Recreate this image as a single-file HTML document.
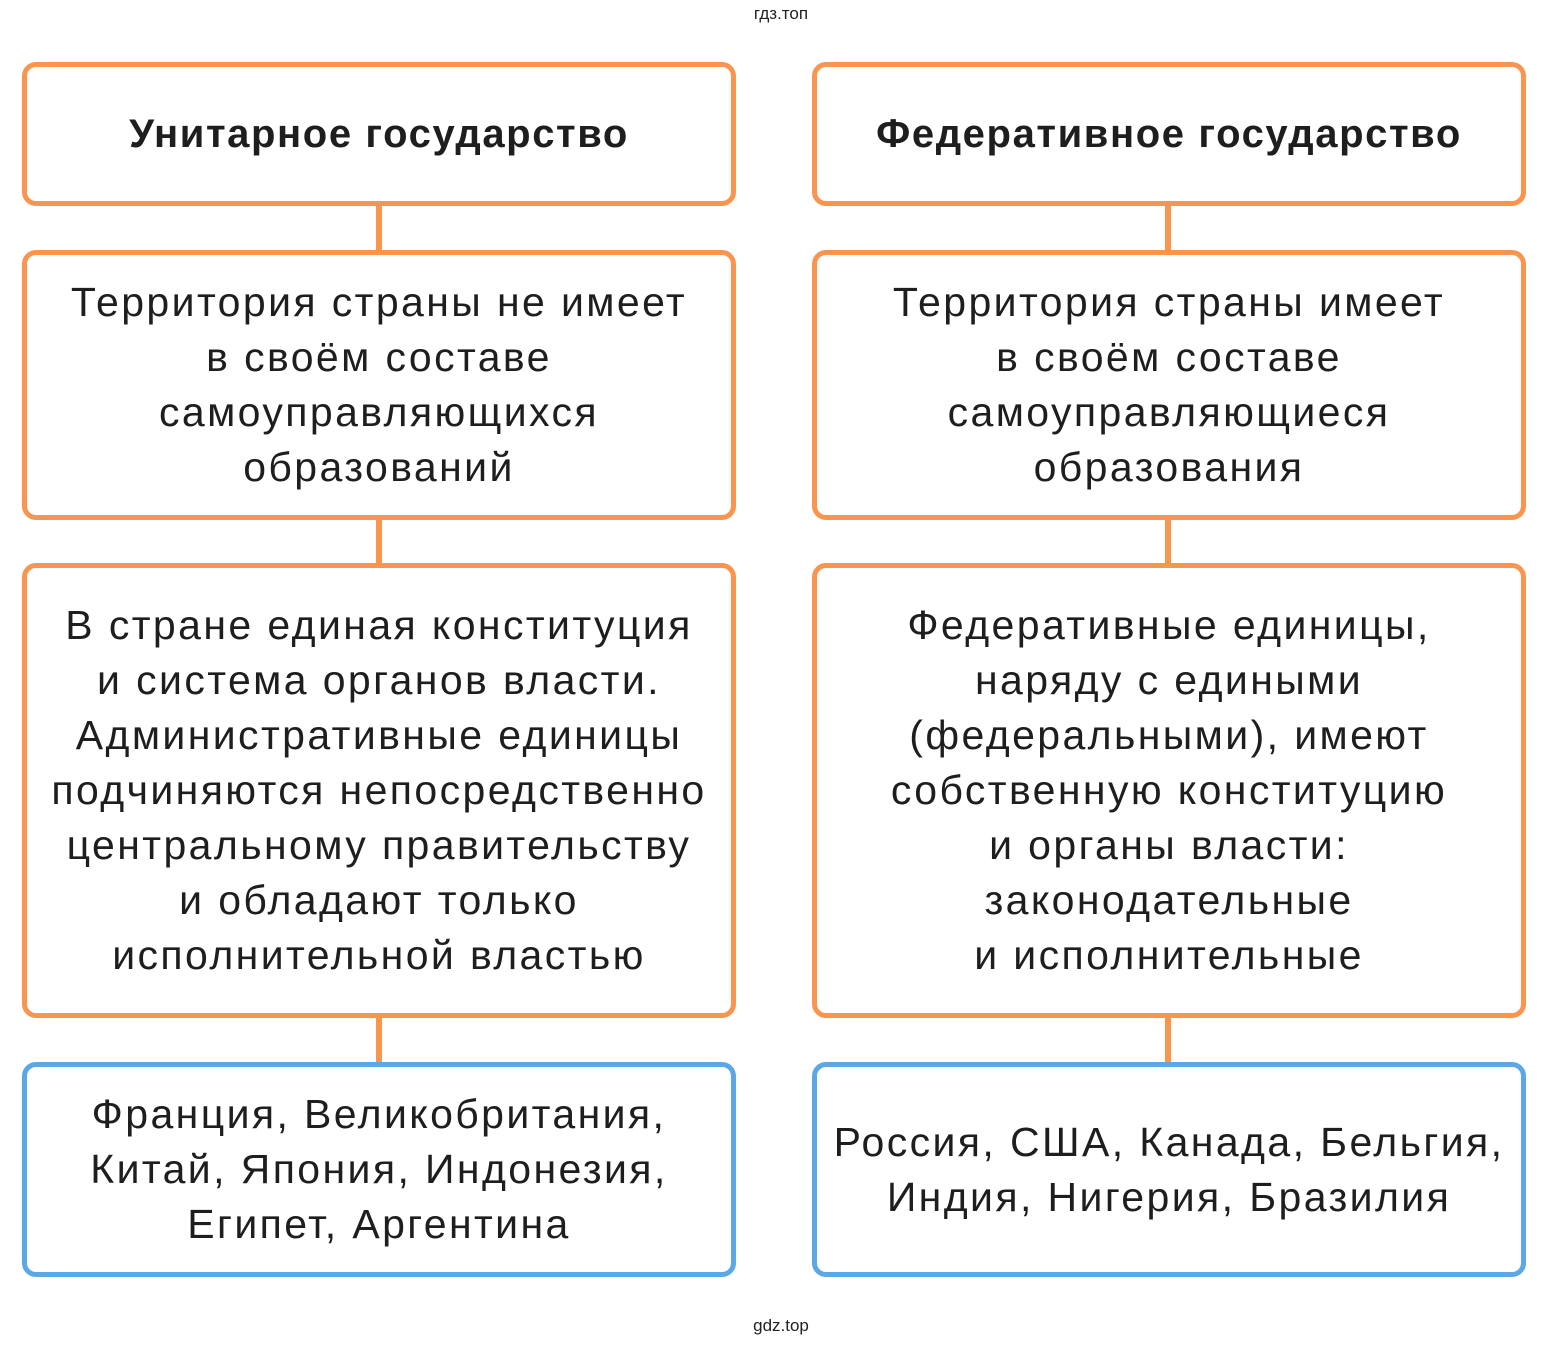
<!DOCTYPE html>
<html><head><meta charset="utf-8"><style>
body{margin:0;width:1562px;height:1346px;background:#fff;position:relative;font-family:"Liberation Sans","DejaVu Sans",sans-serif;color:#1e1e1e;overflow:hidden}
.b{position:absolute;box-sizing:border-box;border:5px solid #f9954f;border-radius:14px;display:flex;align-items:center;justify-content:center;text-align:center;font-size:41px;line-height:55px;letter-spacing:2.4px;white-space:nowrap}
.blue{border-color:#5ba8e4}
.t{font-weight:bold;font-size:40px;letter-spacing:1.6px}
.l{position:absolute;width:6px;background:#f9954f}
.s{position:absolute;width:1562px;text-align:center;font-size:17px;color:#222}
</style></head><body>
<div class="s" style="top:4px">гдз.топ</div>
<div class="s" style="top:1316px">gdz.top</div>
<div class="l" style="left:376px;top:204px;height:48px"></div>
<div class="l" style="left:376px;top:518px;height:48px"></div>
<div class="l" style="left:376px;top:1016px;height:48px"></div>
<div class="l" style="left:1165px;top:204px;height:48px"></div>
<div class="l" style="left:1165px;top:518px;height:48px"></div>
<div class="l" style="left:1165px;top:1016px;height:48px"></div>

<div class="b t" style="left:22px;top:62px;width:714px;height:144px">Унитарное государство</div>
<div class="b t" style="left:812px;top:62px;width:714px;height:144px">Федеративное государство</div>

<div class="b" style="left:22px;top:250px;width:714px;height:270px">Территория страны не имеет<br>в своём составе<br>самоуправляющихся<br>образований</div>
<div class="b" style="left:812px;top:250px;width:714px;height:270px">Территория страны имеет<br>в своём составе<br>самоуправляющиеся<br>образования</div>

<div class="b" style="left:22px;top:563px;width:714px;height:455px">В стране единая конституция<br>и система органов власти.<br>Административные единицы<br>подчиняются непосредственно<br>центральному правительству<br>и обладают только<br>исполнительной властью</div>
<div class="b" style="left:812px;top:563px;width:714px;height:455px">Федеративные единицы,<br>наряду с едиными<br>(федеральными), имеют<br>собственную конституцию<br>и органы власти:<br>законодательные<br>и исполнительные</div>

<div class="b blue" style="left:22px;top:1062px;width:714px;height:215px">Франция, Великобритания,<br>Китай, Япония, Индонезия,<br>Египет, Аргентина</div>
<div class="b blue" style="left:812px;top:1062px;width:714px;height:215px">Россия, США, Канада, Бельгия,<br>Индия, Нигерия, Бразилия</div>
</body></html>
